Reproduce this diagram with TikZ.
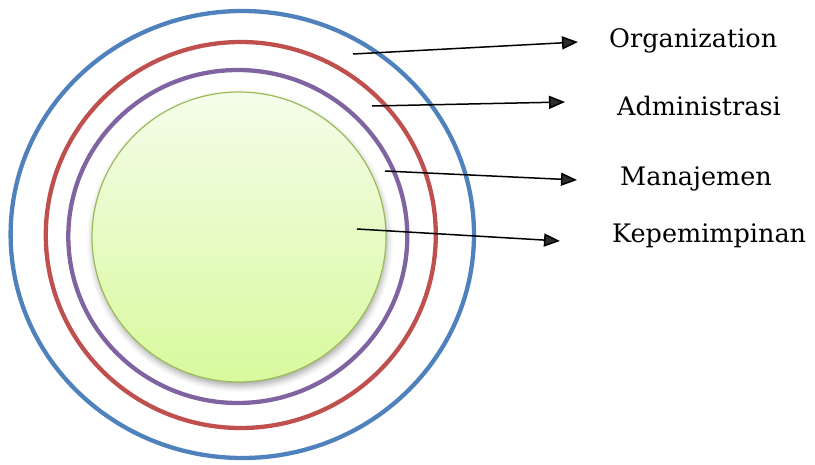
\documentclass[tikz,border=0pt]{standalone}
\usepackage{fontspec}
\setmainfont{DejaVu Serif}
\usetikzlibrary{arrows.meta,shadows.blur}

\definecolor{ringblue}{HTML}{4F81BD}
\definecolor{ringred}{HTML}{C0504D}
\definecolor{ringpurple}{HTML}{8064A2}
\definecolor{coreedge}{HTML}{9BBB59}
\definecolor{coretop}{HTML}{F4FDEA}
\definecolor{corebottom}{HTML}{D9F99D}

\tikzset{
  ring/.style={line width=4.3pt},
  pointer/.style={line width=1.5pt, -{Triangle[length=16pt,width=13pt]}},
  lvl/.style={anchor=base west, inner sep=0pt, font=\fontsize{25.5}{30}\selectfont}
}

\begin{document}
\begin{tikzpicture}[x=1pt,y=-1pt]
    \useasboundingbox (0,0) rectangle (815,464);

    % Rings
    \draw[ring, ringblue] (242.3,234.5) ellipse [x radius=231.7, y radius=223.5];
    \draw[ring, ringred] (240.8,235) ellipse [x radius=195, y radius=193];
    \draw[ring, ringpurple] (237.8,236.5) ellipse [x radius=169.5, y radius=166.5];

    % Core
    \draw[coreedge, line width=1.2pt, top color=coretop, bottom color=corebottom,
          blur shadow={shadow xshift=1pt, shadow yshift=-4pt, shadow blur radius=6pt, shadow opacity=35}]
        (239,237) ellipse [x radius=147, y radius=145];

    % Labels
    \node[lvl] (org) at (609,47) {Organization};
    \node[lvl] (adm) at (617,115) {Administrasi};
    \node[lvl] (man) at (620,185) {Manajemen};
    \node[lvl] (kep) at (612,242) {Kepemimpinan};

    % Pointers
    \coordinate (org-s) at (353,54);  \coordinate (org-e) at (578,42);
    \coordinate (adm-s) at (372,106); \coordinate (adm-e) at (565,102);
    \coordinate (man-s) at (385,171); \coordinate (man-e) at (577,180);
    \coordinate (kep-s) at (357,229); \coordinate (kep-e) at (560,241);
    \draw[pointer] (org-s) -- (org-e);
    \draw[pointer] (adm-s) -- (adm-e);
    \draw[pointer] (man-s) -- (man-e);
    \draw[pointer] (kep-s) -- (kep-e);

\end{tikzpicture}
\end{document}
